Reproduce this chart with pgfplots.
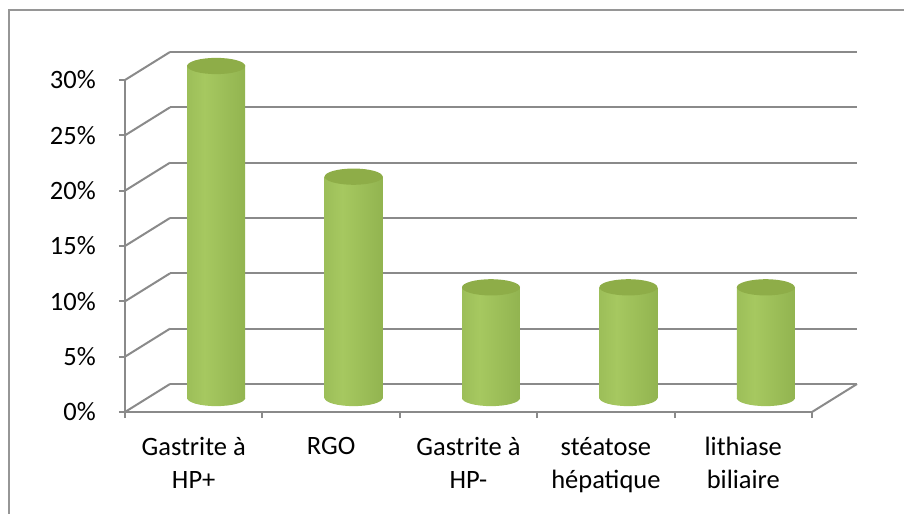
\documentclass[border=0pt]{standalone}
\usepackage{pgfplots}
\pgfplotsset{compat=1.18}
\usepackage{fontspec}
\setmainfont{Carlito}

\definecolor{gridgray}{RGB}{138,138,138}
\definecolor{framegray}{RGB}{150,150,150}
\definecolor{cylA}{RGB}{122,152,56}
\definecolor{cylB}{RGB}{150,184,84}
\definecolor{cylC}{RGB}{166,200,96}
\definecolor{cylD}{RGB}{146,180,80}
\definecolor{cylE}{RGB}{104,132,44}
\definecolor{cylTop}{RGB}{142,173,72}

% left-to-right shading of a cylinder side
\pgfdeclarehorizontalshading{cylshade}{100bp}{color(0bp)=(cylA); color(15bp)=(cylB); color(40bp)=(cylC); color(75bp)=(cylD); color(100bp)=(cylE)}

% elliptic caps (ratio of the axes 0.28)
\pgfdeclareplotmark{captop}{%
  \pgfpathellipse{\pgfpointorigin}{\pgfqpoint{\pgfplotmarksize}{0pt}}{\pgfqpoint{0pt}{0.28\pgfplotmarksize}}%
  \pgfusepathqfill}
\pgfdeclareplotmark{capbottom}{%
  \pgfpathmoveto{\pgfqpoint{-\pgfplotmarksize}{0pt}}%
  \pgfpatharc{180}{360}{\pgfplotmarksize and 0.28\pgfplotmarksize}%
  \pgfpathclose
  \pgfshadepath{cylshade}{0}\pgfusepath{}}

\pgfplotsset{
  cyl/.style={ybar, bar width=0.422, draw=none, shading=cylshade,
    xshift=22.5bp, yshift=14bp},
  cap/.style={only marks, mark=#1, mark size=29bp, xshift=22.5bp, yshift=14bp,
    mark options={fill=cylTop}},
}

\begin{document}
\begin{tikzpicture}[font=\fontsize{26.5bp}{33bp}\selectfont]
% page = 904 x 514 px, axis origin at (125,412) px
\useasboundingbox (-125bp,-102bp) rectangle (779bp,412bp);
\begin{axis}[
  at={(0,0)}, anchor=south west,
  scale only axis, width=687bp, height=332bp,
  xmin=-0.5, xmax=4.5, ymin=0, ymax=30,
  clip=false,
  axis lines*=left,
  axis line style={gridgray, line width=2bp},
  tick align=outside,
  major tick length=6bp,
  tick style={gridgray, line width=2bp},
  xtick={-0.5,0.5,...,4.5}, xticklabels={},
  extra x ticks={0,1,2,3,4},
  extra x tick labels={Gastrite à\\HP+, RGO, Gastrite à\\HP-, stéatose\\hépatique, lithiase\\biliaire},
  extra x tick style={major tick length=0pt},
  xticklabel style={align=center, anchor=north, inner sep=0pt, yshift=-25bp},
  ytick={0,5,...,30},
  yticklabel={\pgfmathprintnumber{\tick}\%},
  yticklabel style={anchor=east, inner sep=0pt, xshift=-23bp},
  /pgf/number format/assume math mode=true,
  ymajorgrids,
  grid style={gridgray, line width=2bp, xshift=45bp, yshift=28bp},
]
% side wall and floor edge
\pgfplotsinvokeforeach{0,5,10,15,20,25,30}{
  \draw[gridgray, line width=2bp] (axis cs:-0.5,#1) -- ++(45bp,28bp);
}
\draw[gridgray, line width=2bp] (axis cs:4.5,0) -- ++(45bp,28bp);

% cylinder bodies, one plot each so that each gets its own shading
\addplot[cyl] coordinates {(0,30)};
\addplot[cyl] coordinates {(1,20)};
\addplot[cyl] coordinates {(2,10)};
\addplot[cyl] coordinates {(3,10)};
\addplot[cyl] coordinates {(4,10)};
% bottoms and tops
\addplot[cap=capbottom] coordinates {(0,0) (1,0) (2,0) (3,0) (4,0)};
\addplot[cap=captop] coordinates {(0,30) (1,20) (2,10) (3,10) (4,10)};
\end{axis}
\draw[framegray, line width=2bp] (-116bp,-110bp) -- (-116bp,402bp) -- (790bp,402bp);
\end{tikzpicture}
\end{document}
